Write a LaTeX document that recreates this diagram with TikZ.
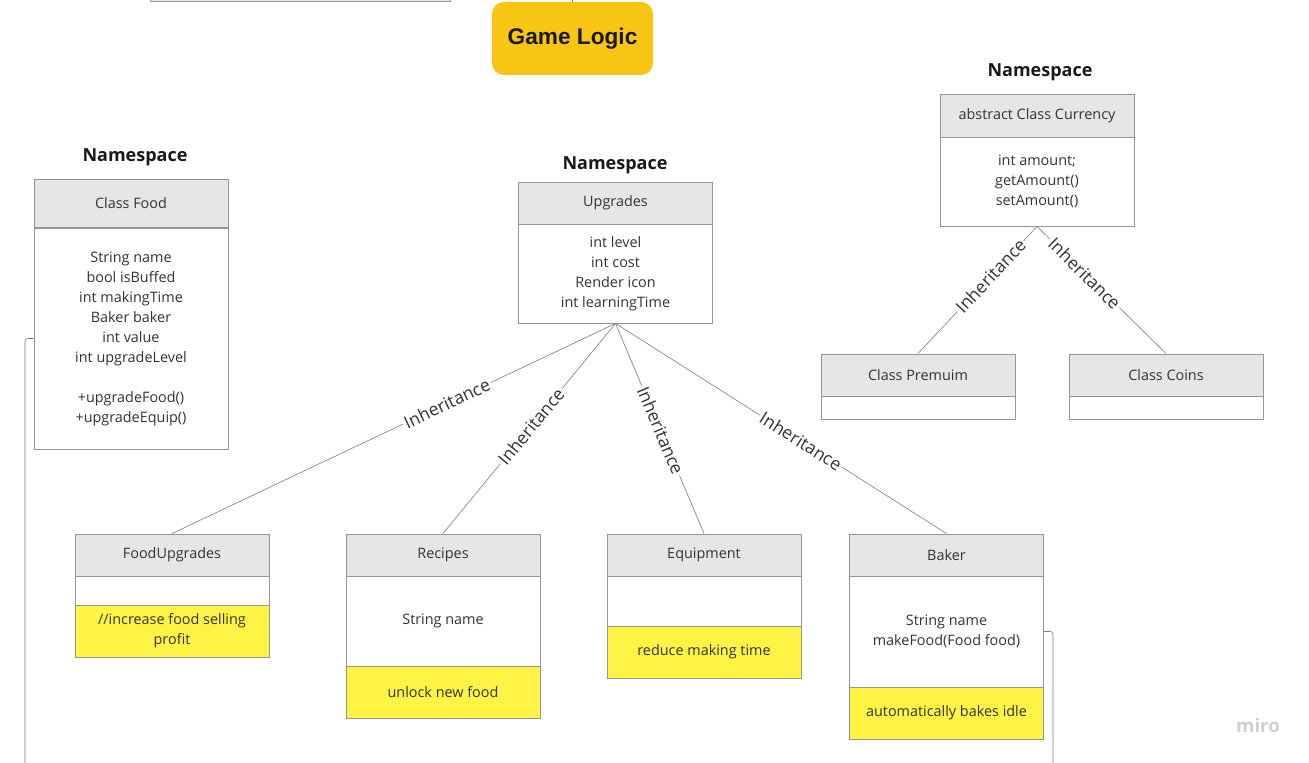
\documentclass[tikz,border=0pt]{standalone}
\usepackage{fontspec}
\setmainfont{Open Sans}
\newfontfamily\glfont{Liberation Sans}
\definecolor{boxline}{HTML}{959595}
\definecolor{hdrfill}{HTML}{E6E6E6}
\definecolor{noteyel}{HTML}{FFF445}
\definecolor{glfill}{HTML}{F9C515}
\definecolor{txt}{HTML}{333333}
\definecolor{conn}{HTML}{7A7A7A}
\definecolor{miroc}{HTML}{CBD0D7}
\tikzset{
  part/.style={draw=boxline, line width=0.7pt, minimum width=145.5pt, inner sep=0pt,
    text=txt, font=\fontsize{10.8}{15}\selectfont, align=center},
  hdr/.style={part, fill=hdrfill, minimum height=31.5pt},
  body/.style={part, fill=white},
  note/.style={part, fill=noteyel},
  nslabel/.style={font=\fontsize{13.5}{16}\selectfont\bfseries, text=black!90},
  link/.style={draw=conn, line width=0.45pt},
  inh/.style={sloped, fill=white, inner sep=1.5pt, text=txt, font=\fontsize{13.2}{15}\selectfont},
}
\begin{document}
\begin{tikzpicture}[x=0.75pt,y=-0.75pt]
\path[use as bounding box] (0,0) rectangle (1309,763);
\begin{scope}
\clip (0,0) rectangle (1309,763);
\draw[draw=boxline, fill=hdrfill, line width=0.7pt] (150,-20) rectangle (450,1);
\end{scope}

% Game Logic
\node[draw=none, fill=glfill, rounded corners=9pt, minimum width=120.75pt, minimum height=54.75pt,
  font=\glfont\fontsize{17}{20}\selectfont\bfseries, text=black!90] (gl) at (572.5,38.5) {Game Logic};
\coordinate (gltop) at (572.5,0);
\draw[link] (gltop) -- (gl.north);

% Food namespace
\node[nslabel] (nsfood) at (135,157) {Namespace};
\node[hdr, minimum height=36pt] (foodh) at (131,203) {Class Food};
\node[body, minimum height=165.75pt] (foodb) at (131,338.5)
  {String name\\bool isBuffed\\int makingTime\\Baker baker\\int value\\int upgradeLevel\\[15pt]+upgradeFood()\\+upgradeEquip()};

% Upgrades namespace
\node[nslabel] (nsupg) at (615,165) {Namespace};
\node[hdr] (upgh) at (615.5,203) {Upgrades};
\node[body, minimum height=74.25pt] (upgb) at (615.5,273.5)
  {int level\\int cost\\Render icon\\int learningTime};

% Currency namespace
\node[nslabel] (nscur) at (1040,72) {Namespace};
\node[hdr, minimum height=32.25pt] (curh) at (1037,115.5) {abstract Class Currency};
\node[body, minimum height=66.75pt] (curb) at (1037,181.5)
  {int amount;\\getAmount()\\setAmount()};

% Premuim / Coins
\node[hdr] (premh) at (918,375) {Class Premuim};
\node[body, minimum height=17.25pt] (premb) at (918,407.5) {};
\node[hdr] (coinh) at (1166,375) {Class Coins};
\node[body, minimum height=17.25pt] (coinb) at (1166,407.5) {};

% FoodUpgrades
\node[hdr] (fuh) at (172,555) {FoodUpgrades};
\node[body, minimum height=21.75pt] (fub) at (172,590.5) {};
\node[note, minimum height=39pt] (fun) at (172,631) {//increase food selling\\profit};

% Recipes
\node[hdr] (rech) at (443,555) {Recipes};
\node[body, minimum height=67.5pt] (recb) at (443,621) {String name};
\node[note, minimum height=39pt] (recn) at (443,692) {unlock new food};

% Equipment
\node[hdr] (eqh) at (704,555) {Equipment};
\node[body, minimum height=37.5pt] (eqb) at (704,601) {};
\node[note, minimum height=39pt] (eqn) at (704,652) {reduce making time};

% Baker
\node[hdr] (bakh) at (946.5,555) {Baker};
\node[body, minimum height=83.25pt] (bakb) at (946.5,631.5) {String name\\makeFood(Food food)};
\node[note, minimum height=39pt] (bakn) at (946.5,713) {automatically bakes idle};

% Inheritance links
\draw[link] (upgb.south) -- node[inh, pos=0.38] {Inheritance} (fuh.north);
\draw[link] (upgb.south) -- node[inh, pos=0.49] {Inheritance} (rech.north);
\draw[link] (upgb.south) -- node[inh, pos=0.51] {Inheritance} (eqh.north);
\draw[link] (upgb.south) -- node[inh, pos=0.56] {Inheritance} (bakh.north);
\draw[link] (curb.south) -- node[inh, pos=0.39] {Inheritance} (premh.north);
\draw[link] (curb.south) -- node[inh, pos=0.37] {Inheritance} (coinh.north);

% side lines
\coordinate (lfoot) at (25,763);
\coordinate (rfoot) at (1053,763);
\draw[link, rounded corners=2pt] (foodb.west) -| (lfoot);
\draw[link, rounded corners=2pt] (bakb.east) -| (rfoot);

% watermark
\node[font=\fontsize{14}{16}\selectfont\bfseries, text=miroc] (miro) at (1258,725) {miro};
\end{tikzpicture}
\end{document}
